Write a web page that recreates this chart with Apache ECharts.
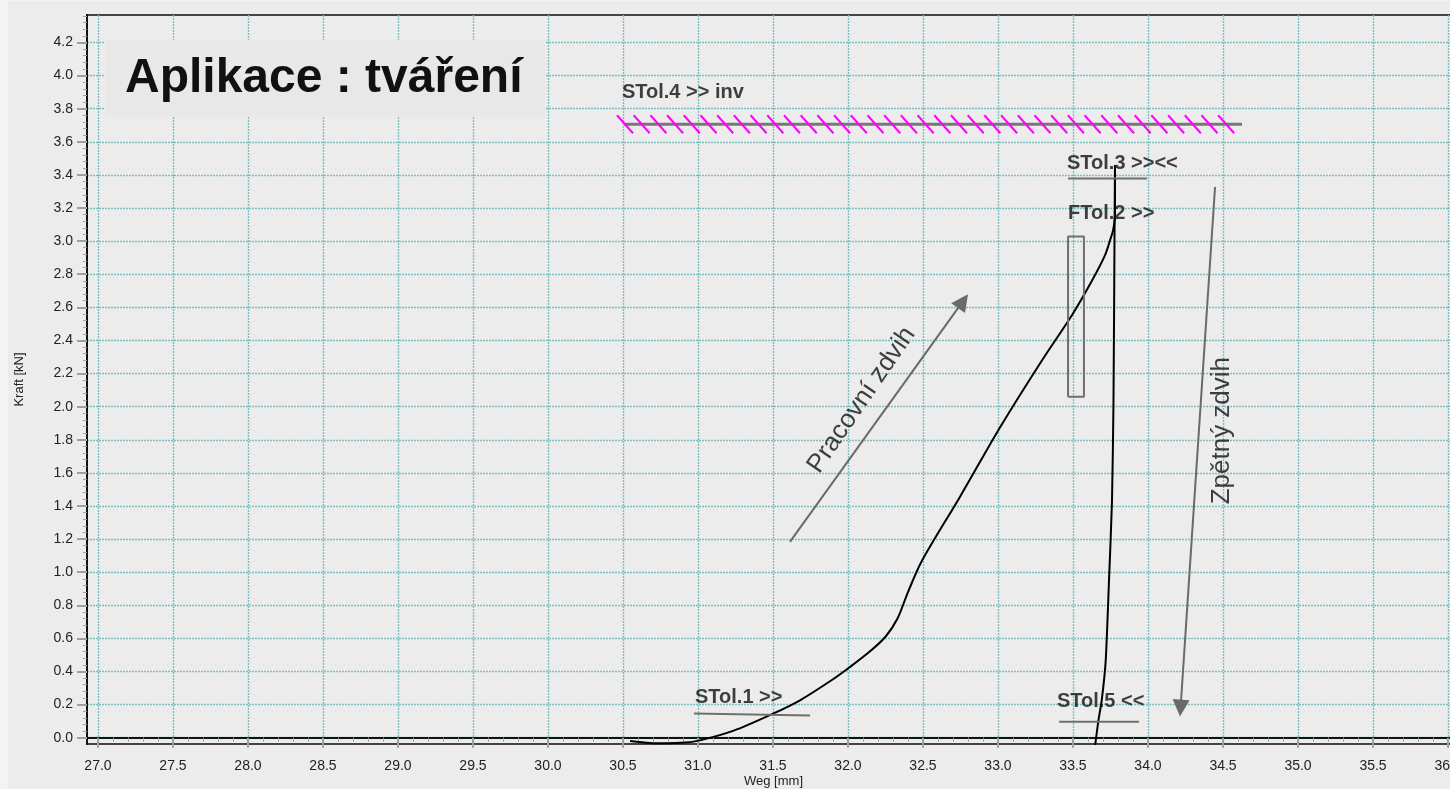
<!DOCTYPE html>
<html><head><meta charset="utf-8">
<script src="https://cdn.jsdelivr.net/npm/echarts@6/dist/echarts.min.js"></script>
<style>
html,body{margin:0;padding:0;background:#f3f3f3;width:1450px;height:789px;overflow:hidden}
#c{position:absolute;left:8px;top:1px;width:1442px;height:788px}
</style></head>
<body><div id="c"></div>
<script>
// ---- data (Weg [mm], Kraft [kN]) ----
const forwardWeg   = [30.547,30.68,30.793,30.913,31.013,31.233,31.5,31.68,31.9,32.013,32.147,32.25,32.33,32.4,32.493,32.747,33.013,33.28,33.5,33.627,33.713,33.747,33.767,33.78,33.78];
const forwardKraft = [-0.020,-0.032,-0.034,-0.029,-0.016,0.041,0.145,0.226,0.353,0.427,0.522,0.61,0.72,0.88,1.069,1.456,1.874,2.261,2.563,2.762,2.914,3.005,3.065,3.156,3.458];
const returnWeg    = [33.78,33.777,33.77,33.76,33.74,33.718,33.691,33.669,33.647];
const returnKraft  = [3.458,3.065,2.036,1.431,0.948,0.464,0.222,0.101,-0.05];

// axis ticks
const xTicks = [27.0,27.5,28.0,28.5,29.0,29.5,30.0,30.5,31.0,31.5,32.0,32.5,33.0,33.5,34.0,34.5,35.0,35.5,36.0];
const yTicks = [0.0,0.2,0.4,0.6,0.8,1.0,1.2,1.4,1.6,1.8,2.0,2.2,2.4,2.6,2.8,3.0,3.2,3.4,3.6,3.8,4.0,4.2];

// tolerance windows
const stol1Weg = [30.973,31.747], stol1Kraft = [0.146,0.134];
const stol3Weg = [33.467,33.993], stol3Kraft = [3.378,3.378];
const stol5Weg = [33.407,33.94],  stol5Kraft = [0.097,0.097];
const stol4Weg = [30.507,34.627], stol4Kraft = [3.706,3.706];
const stol4HatchWeg = [30.46,34.68];
const ftol2Weg = [33.467,33.573,33.573,33.467,33.467];
const ftol2Kraft = [2.06,2.06,3.028,3.028,2.06];

// arrows [start, end]
const arrowWorkWeg = [31.613,32.767], arrowWorkKraft = [1.183,2.637];
const arrowBackWeg = [34.447,34.217], arrowBackKraft = [3.327,0.179];

// labels
const labelTexts = ['STol.4 >> inv','STol.3 >><<','FTol.2 >>','STol.1 >>','STol.5 <<'];
const labelWeg   = [30.493,33.46,33.467,30.98,33.393];
const labelKraft = [3.900,3.471,3.168,0.240,0.216];
const noteTexts  = ['Pracovní zdvih','Zpětný zdvih'];
const noteWeg    = [32.09,34.493];
const noteKraft  = [2.04,1.855];
const noteAngle  = [55.6,90];

const titleText = 'Aplikace : tváření';
const xName = 'Weg [mm]', yName = 'Kraft [kN]';

const zip = (a,b) => a.map((v,i)=>[v,b[i]]);
const FONT = "'Liberation Sans', Arial, sans-serif";
const grey = '#6f6f6f';
const gridColor = '#7dbebe';
const chart = echarts.init(document.getElementById('c'));

function lineSeries(x,y,color,width){
  return {type:'line', data:zip(x,y), symbol:'none', silent:true, animation:false,
    lineStyle:{color:color,width:width}, itemStyle:{color:color}, z:3};
}
const splitStyle = {show:true, lineStyle:{color:gridColor, type:[2,1], width:1.4, opacity:1}};

chart.setOption({
  backgroundColor:'#ececec',
  animation:false,
  grid:{left:79, top:14, right:-10, bottom:45, show:true, backgroundColor:'#ececec', borderColor:'#444', borderWidth:2,
    containLabel:false, outerBoundsMode:'none'},
  xAxis:{type:'value', min:26.9267, max:36.08, splitNumber:18,
    name:xName, nameLocation:'middle', nameGap:31, nameMoveOverlap:false,
    nameTextStyle:{fontFamily:FONT, fontSize:13, color:'#222'},
    axisLine:{lineStyle:{color:'#111', width:2}},
    axisTick:{show:true, length:10, customValues:xTicks, lineStyle:{color:'#a0a0a0', width:2}},
    minorTick:{show:true, splitNumber:5, length:4, lineStyle:{color:'#a0a0a0', width:1}},
    axisLabel:{fontFamily:FONT, fontSize:14, color:'#222', margin:15, customValues:xTicks,
      formatter:v=>v.toFixed(1)},
    splitLine:splitStyle
  },
  yAxis:{type:'value', min:-0.038, max:4.366, splitNumber:22,
    name:yName, nameLocation:'middle', nameGap:61, nameMoveOverlap:false,
    nameTextStyle:{fontFamily:FONT, fontSize:13, color:'#222'},
    axisLine:{show:true, lineStyle:{color:'#111', width:2}},
    axisTick:{show:true, length:10, customValues:yTicks, lineStyle:{color:'#a0a0a0', width:2}},
    minorTick:{show:true, splitNumber:5, length:4, lineStyle:{color:'#a0a0a0', width:1}},
    axisLabel:{fontFamily:FONT, fontSize:14, color:'#222', margin:14, customValues:yTicks,
      formatter:v=>v.toFixed(1)},
    splitLine:splitStyle
  },
  graphic:[
    {type:'rect', left:97, top:39, shape:{width:440, height:77}, style:{fill:'#e8e8e8'}, z:50, silent:true},
    {type:'text', x:117, y:78, z:51, silent:true,
      style:{text:titleText, fontFamily:FONT, fontSize:48, fontWeight:'bold', fill:'#111', verticalAlign:'middle'}}
  ],
  series:[
    Object.assign(lineSeries(forwardWeg,forwardKraft,'#000',2),{smooth:0.3}),
    Object.assign(lineSeries(returnWeg,returnKraft,'#000',2),{smooth:0.2}),
    lineSeries(stol1Weg,stol1Kraft,grey,2),
    lineSeries(stol3Weg,stol3Kraft,grey,2),
    lineSeries(stol5Weg,stol5Kraft,grey,2),
    lineSeries(ftol2Weg,ftol2Kraft,grey,2),
    lineSeries(stol4Weg,stol4Kraft,'#777',3),
    {type:'custom', silent:true, animation:false, z:4,
      data:[[stol4HatchWeg[0], stol4HatchWeg[1], stol4Kraft[0]]],
      renderItem:function(params, api){
        const p0 = api.coord([api.value(0), api.value(2)]);
        const p1 = api.coord([api.value(1), api.value(2)]);
        const children = [];
        for(let x=p0[0]; x<=p1[0]-16; x+=16.7){
          children.push({type:'line', shape:{x1:x, y1:p0[1]-9, x2:x+16, y2:p0[1]+9},
            style:{stroke:'#ff00ff', lineWidth:2}});
        }
        return {type:'group', children:children};
      }
    },
    {type:'lines', coordinateSystem:'cartesian2d', silent:true, animation:false, z:5,
      symbol:['none','triangle'], symbolSize:[13,17],
      lineStyle:{color:'#6a6a6a', width:2, opacity:1},
      data:[
        {coords:zip(arrowWorkWeg,arrowWorkKraft)},
        {coords:zip(arrowBackWeg,arrowBackKraft)}
      ]
    },
    {type:'scatter', symbolSize:0, silent:true, animation:false, z:6,
      data:labelTexts.map((t,i)=>({value:[labelWeg[i],labelKraft[i]], name:t})),
      label:{show:true, position:[0,0], align:'left', verticalAlign:'middle',
        formatter:p=>p.name, fontFamily:FONT, fontSize:20, fontWeight:'bold', color:'#111'}
    },
    {type:'scatter', symbolSize:0, silent:true, animation:false, z:6,
      data:noteTexts.map((t,i)=>({value:[noteWeg[i],noteKraft[i]], name:t, label:{rotate:noteAngle[i]}})),
      label:{show:true, position:[0,0], align:'center', verticalAlign:'middle',
        formatter:p=>p.name, fontFamily:FONT, fontSize:26, color:'#111'}
    }
  ]
});
</script>
</body></html>
